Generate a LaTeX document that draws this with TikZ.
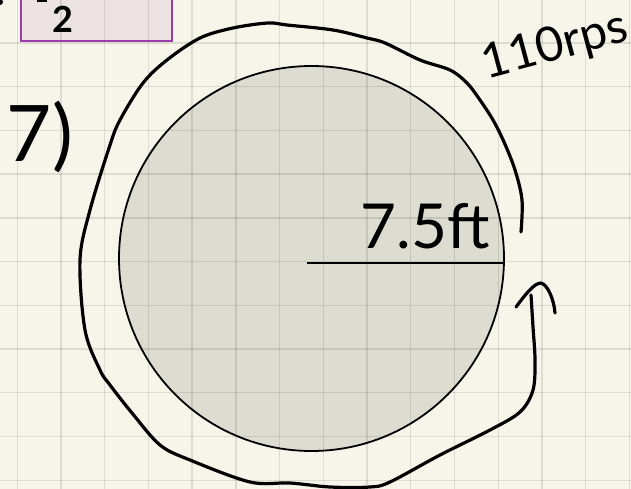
\documentclass[tikz,border=0pt]{standalone}
\usepackage{fontspec}
\setmainfont{Lato}
\definecolor{paper}{HTML}{F7F5EA}
\definecolor{disk}{HTML}{DCDCD0}
\definecolor{boxfill}{HTML}{EBE2E1}
\definecolor{boxline}{HTML}{9B3DA8}
\begin{document}
\begin{tikzpicture}[x=1pt,y=-1pt,
  ink/.style={line width=3.2pt, line cap=round, line join=round},
  gridline/.style={black, opacity=0.1, line width=1.4pt},
  hand/.style={inner sep=0pt, text=black}]
\useasboundingbox (0,0) rectangle (631,489);
\fill[paper] (0,0) rectangle (631,489);
% disk and note box fills
\fill[disk] (311.5,258.5) circle (192.5pt);
\fill[boxfill] (21,-5) rectangle (172,41);
% grid
\foreach \i in {0,...,14} \draw[gridline] ({17.3+43.72*\i},0) -- ++(0,489);
\foreach \j in {0,...,11} \draw[gridline] (0,{-0.7+43.72*\j}) -- ++(631,0);
% outlines
\draw[boxline, line width=2pt] (21,-5) rectangle (172,41);
\draw[line width=1.8pt] (311.5,258.5) circle (192.5pt);
\coordinate (ctr) at (307,263);
\coordinate (rim) at (504,263);
\draw[line width=2.2pt] (ctr) -- (rim);
% note box content
\fill (0,2) circle (3pt);
\fill (37,-1) rectangle (47,2.5);
\node[hand, font=\fontsize{36}{36}\selectfont\bfseries] (den) at (63,19) {2};
\node[hand, anchor=base west, font=\fontsize{30}{30}\selectfont\bfseries] (cm) at (92,-2) {cm};
% texts
\node[hand, font=\fontsize{78}{78}\selectfont] (num) at (40,137) {7)};
\node[hand, font=\fontsize{62}{62}\selectfont] (rad) at (425,226) {7.5ft};
\node[hand, font=\fontsize{48}{48}\selectfont, rotate=15] (rps) at (555,47) {110rps};
% rotation loop
\draw[ink] plot[smooth, tension=0.55] coordinates {
 (521,232) (522,200) (515,170) (504,142) (493,120) (480,100) (467,83) (450,70)
 (420,60) (385,43) (367,38) (333,30) (287,25) (268,23) (233,28) (200,38)
 (167,60) (143,83) (120,120) (110,145) (90,210) (80,260) (85,330) (100,370)
 (110,385) (132,413) (160,445) (190,460) (250,482) (290,483) (330,487)
 (370,487) (390,482) (440,455) (490,430) (520,412) (533,390) (535,360)
 (533,327) (531,295)};
\draw[ink] (516,307) .. controls (525,295) and (534,283) .. (541,283)
  .. controls (548,285) and (554,300) .. (555,313);
\end{tikzpicture}
\end{document}
